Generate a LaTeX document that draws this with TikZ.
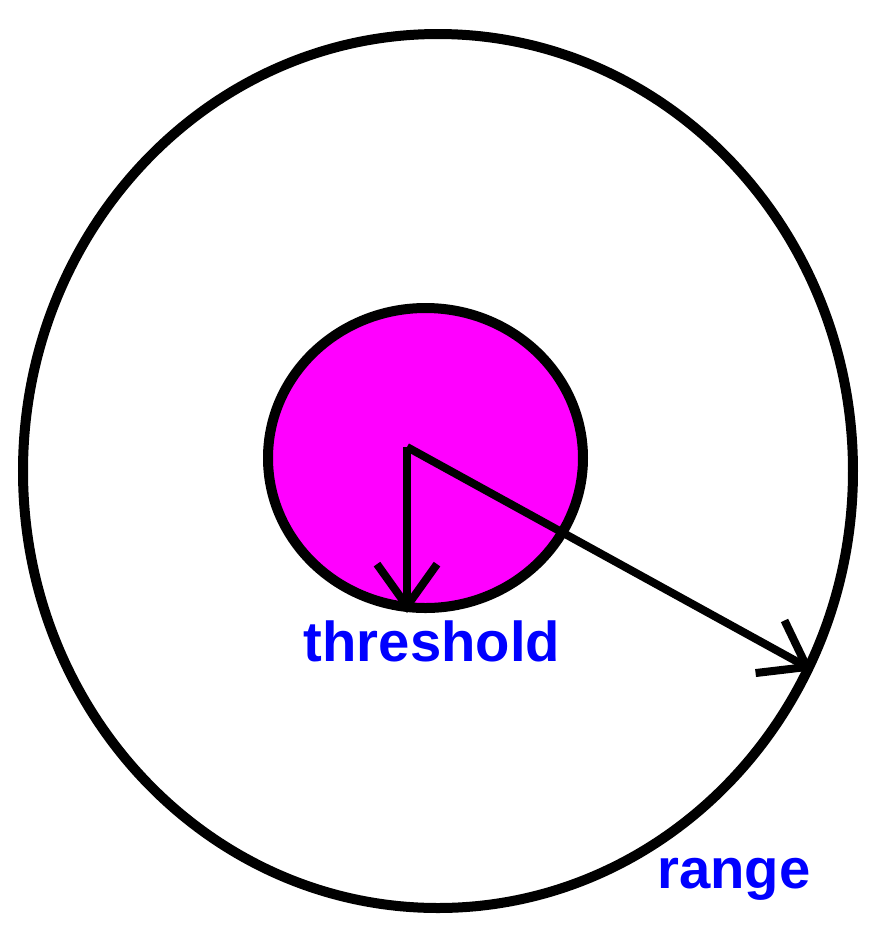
\documentclass[tikz,border=0pt]{standalone}
\usepackage{fontspec}
\setmainfont{Liberation Sans}
\usepackage{xcolor}
\usepackage{tikz}
\usetikzlibrary{arrows.meta, shapes.geometric}

\definecolor{thrfill}{RGB}{255,0,255}
\definecolor{lblblue}{RGB}{0,0,255}

\begin{document}
\begin{tikzpicture}[
    >={Straight Barb[length=0.42cm, width=0.6cm]},
    ring/.style={draw, ellipse, line width=0.1cm, inner sep=0pt},
    arr/.style={->, line width=0.08cm},
    lbl/.style={font=\fontsize{16}{18}\selectfont\bfseries,
                text=lblblue, anchor=base},
]

% Canvas
\fill[white, use as bounding box] (0,0) rectangle (8.79,-9.43);

% Range and threshold circles
\node[ring, minimum width=8.30cm, minimum height=8.74cm]
  (outer) at (4.38,-4.71) {};
\node[ring, fill=thrfill, minimum width=3.15cm, minimum height=3.00cm]
  (inner) at (4.255,-4.58) {};

% Origin of both radii
\coordinate (ctr) at (4.07,-4.47);

\draw[arr] (ctr) -- (ctr |- inner.south);
\draw[arr] (ctr) -- (outer.-28.2);

% Labels
\node[lbl] (thrlbl) at (4.32,-6.61) {threshold};
\node[lbl] (rnglbl) at (7.34,-8.88) {range};

\end{tikzpicture}
\end{document}
